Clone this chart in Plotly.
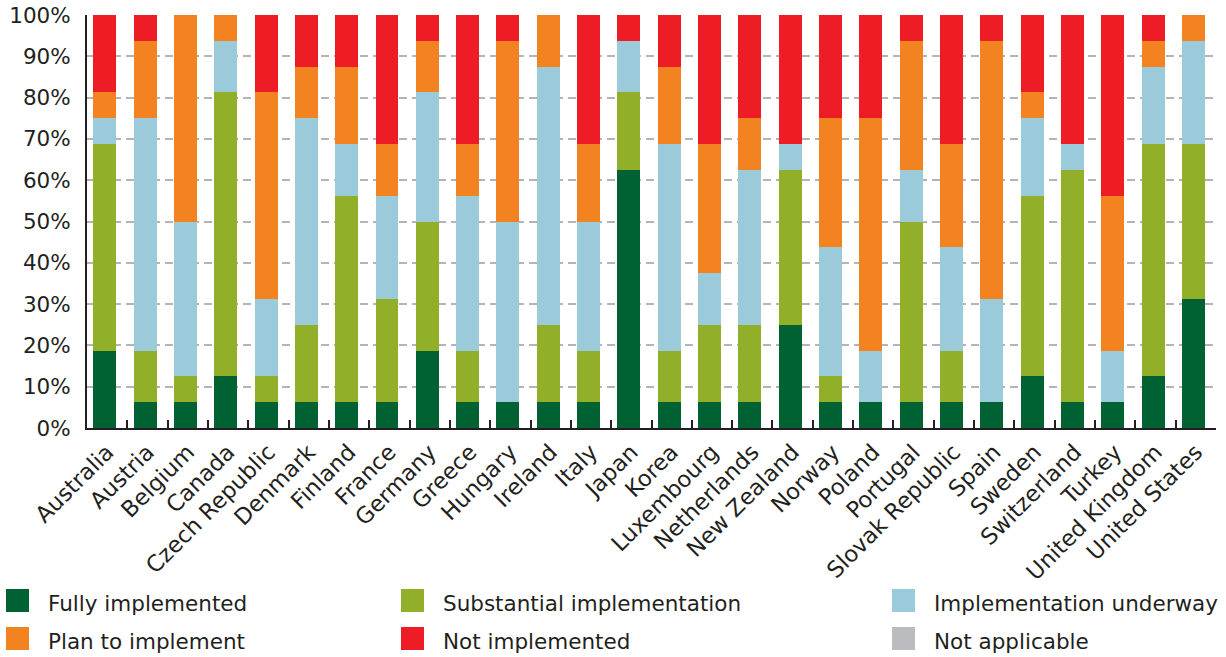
import plotly.graph_objects as go

# Countries along the x axis
countries = [
    "Australia", "Austria", "Belgium", "Canada", "Czech Republic", "Denmark",
    "Finland", "France", "Germany", "Greece", "Hungary", "Ireland", "Italy",
    "Japan", "Korea", "Luxembourg", "Netherlands", "New Zealand", "Norway",
    "Poland", "Portugal", "Slovak Republic", "Spain", "Sweden", "Switzerland",
    "Turkey", "United Kingdom", "United States",
]

# Share of recommendations (%) in each implementation status
fully_implemented = [18.75, 6.25, 6.25, 12.5, 6.25, 6.25, 6.25, 6.25, 18.75, 6.25,
                     6.25, 6.25, 6.25, 62.5, 6.25, 6.25, 6.25, 25.0, 6.25, 6.25,
                     6.25, 6.25, 6.25, 12.5, 6.25, 6.25, 12.5, 31.25]
substantial = [50.0, 12.5, 6.25, 68.75, 6.25, 18.75, 50.0, 25.0, 31.25, 12.5,
               0.0, 18.75, 12.5, 18.75, 12.5, 18.75, 18.75, 37.5, 6.25, 0.0,
               43.75, 12.5, 0.0, 43.75, 56.25, 0.0, 56.25, 37.5]
underway = [6.25, 56.25, 37.5, 12.5, 18.75, 50.0, 12.5, 25.0, 31.25, 37.5,
            43.75, 62.5, 31.25, 12.5, 50.0, 12.5, 37.5, 6.25, 31.25, 12.5,
            12.5, 25.0, 25.0, 18.75, 6.25, 12.5, 18.75, 25.0]
plan = [6.25, 18.75, 50.0, 6.25, 50.0, 12.5, 18.75, 12.5, 12.5, 12.5,
        43.75, 12.5, 18.75, 0.0, 18.75, 31.25, 12.5, 0.0, 31.25, 56.25,
        31.25, 25.0, 62.5, 6.25, 0.0, 37.5, 6.25, 6.25]
not_implemented = [18.75, 6.25, 0.0, 0.0, 18.75, 12.5, 12.5, 31.25, 6.25, 31.25,
                   6.25, 0.0, 31.25, 6.25, 12.5, 31.25, 25.0, 31.25, 25.0, 25.0,
                   6.25, 31.25, 6.25, 18.75, 31.25, 43.75, 6.25, 0.0]
not_applicable = [0.0] * len(countries)

series_names = ["Fully implemented", "Substantial implementation", "Implementation underway",
                "Plan to implement", "Not implemented", "Not applicable"]
series_values = [fully_implemented, substantial, underway, plan, not_implemented, not_applicable]
series_colors = ["#006233", "#92AF2A", "#9BCBDB", "#F38321", "#EE1D25", "#BBBCC0"]

y_ticks = list(range(0, 101, 10))
y_tick_labels = [f"{v}%" for v in y_ticks]

TEXT = "#231F20"
FONT = "DejaVu Sans, Verdana, sans-serif"

W, H = 1226, 657
ML, MR, MT, MB = 87, 10, 15, 229
PW, PH = W - ML - MR, H - MT - MB

fig = go.Figure()
for name, vals, color in zip(series_names, series_values, series_colors):
    fig.add_trace(go.Bar(
        x=countries, y=vals, name=name,
        marker=dict(color=color, line=dict(width=0)),
        width=0.57, offset=-0.345,
        showlegend=False,
        hovertemplate="%{x}<br>" + name + ": %{y}%<extra></extra>",
    ))

# Legend drawn as a 3-column grid of swatches and labels below the chart
col_x = [6, 401, 892]
row_y = [600.5, 638.5]
shapes, annotations = [], []
for i, (name, color) in enumerate(zip(series_names, series_colors)):
    r, c = divmod(i, 3)
    x0 = col_x[c]
    yc = row_y[r]
    shapes.append(dict(type="rect", xref="paper", yref="paper",
                       x0=(x0 - ML) / PW, x1=(x0 + 23 - ML) / PW,
                       y0=(H - MB - (yc + 11.5)) / PH,
                       y1=(H - MB - (yc - 11.5)) / PH,
                       fillcolor=color, line=dict(width=0)))
    annotations.append(dict(xref="paper", yref="paper",
                            x=(x0 + 40 - ML) / PW,
                            y=(H - MB - (yc + 3)) / PH,
                            xanchor="left", yanchor="middle", showarrow=False,
                            text=name, font=dict(family=FONT, size=21.5, color=TEXT)))

fig.update_layout(
    barmode="stack",
    width=W, height=H,
    margin=dict(l=ML, r=MR, t=MT, b=MB, autoexpand=False),
    paper_bgcolor="white", plot_bgcolor="white",
    font=dict(family=FONT, size=21, color=TEXT),
    bargap=0.43,
    shapes=shapes,
    annotations=annotations,
    showlegend=False,
)
fig.update_xaxes(
    type="category",
    showline=True, linecolor=TEXT, linewidth=2,
    ticks="inside", tickson="boundaries", ticklen=8, tickcolor=TEXT, tickwidth=1.5,
    tickangle=-45, tickfont=dict(family=FONT, size=22.5, color=TEXT),
    showgrid=False, range=[-0.5, len(countries) - 0.5],
)
fig.update_yaxes(
    range=[0, 100], tickvals=y_ticks, ticktext=y_tick_labels,
    showline=True, linecolor=TEXT, linewidth=2,
    showgrid=True, gridcolor="#B4B4B4", gridwidth=1.5, griddash="8px,5px",
    ticks="", ticklabelstandoff=10,
    tickfont=dict(family=FONT, size=21.5, color=TEXT),
    zeroline=False,
)

fig.write_html("out.html")
